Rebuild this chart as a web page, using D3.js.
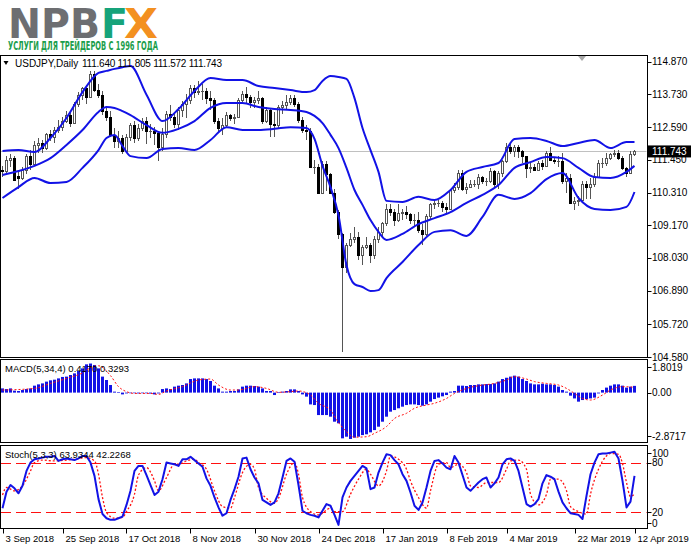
<!DOCTYPE html>
<html><head><meta charset="utf-8">
<script src="https://cdn.jsdelivr.net/npm/d3@7"></script>
<style>
html,body{margin:0;padding:0;background:#fff;}
svg{display:block;font-family:"Liberation Sans",Arial,sans-serif;}
</style></head><body>
<svg id="c" width="691" height="549"></svg>
<script>
// ---------- DATA ----------
const opens = [
111.10,111.05,111.45,111.50,110.90,110.80,111.10,111.60,111.30,111.95,
112.05,111.85,112.35,112.25,112.50,112.60,112.80,113.00,112.75,113.40,
113.70,113.95,113.65,114.45,113.90,113.70,113.15,112.95,112.30,112.10,
112.20,111.75,112.25,112.65,112.20,112.55,112.80,112.45,112.45,112.40,
111.90,112.35,113.05,112.95,112.70,113.20,113.40,113.55,113.95,113.80,
113.85,113.85,113.60,113.55,112.80,112.55,112.65,113.00,112.90,112.95,
113.55,113.75,113.65,113.45,113.55,113.60,112.80,113.20,112.70,112.65,
113.30,113.35,113.45,113.60,113.40,112.85,112.50,112.45,111.20,111.20,
110.30,111.30,110.95,110.30,109.65,108.85,107.70,108.50,108.70,108.75,
108.15,108.40,108.50,108.15,108.70,108.95,109.25,109.75,109.65,109.35,
109.60,109.65,109.55,109.35,109.35,109.00,108.85,109.50,109.90,109.95,
109.95,109.80,109.75,110.40,110.50,111.00,110.45,110.50,110.60,110.60,
110.85,110.70,110.70,111.05,110.60,111.00,111.40,111.90,111.75,111.90,
111.75,111.60,111.15,111.20,111.10,111.35,111.25,111.70,111.45,111.40,
111.40,110.70,110.80,109.95,110.00,110.05,110.60,110.50,110.60,110.85,
111.35,111.35,111.50,111.65,111.70,111.50,111.15,111.00,111.640];
const highs = [
111.25,111.60,111.65,111.60,111.05,111.20,111.65,111.80,112.10,112.20,
112.15,112.40,112.50,112.60,112.85,112.95,113.15,113.10,113.45,113.80,
114.00,114.05,114.55,114.55,114.10,113.85,113.30,113.15,112.55,112.45,
112.30,112.35,112.75,112.80,112.70,112.90,112.95,112.70,112.60,112.45,
112.55,113.15,113.35,113.10,113.30,113.50,113.75,114.05,114.05,114.20,
114.10,113.95,113.85,113.60,112.90,112.90,113.10,113.05,113.05,113.60,
113.85,114.00,113.70,113.65,113.85,113.65,113.30,113.25,113.10,113.35,
113.50,113.70,113.70,113.70,113.45,112.95,112.65,112.55,111.45,111.30,
111.40,111.40,111.00,110.45,109.70,108.90,108.55,108.90,109.10,108.95,
108.50,108.75,108.55,108.80,109.10,109.30,109.90,109.90,109.75,109.90,
109.75,109.85,109.60,109.55,109.65,109.20,109.55,109.95,110.05,110.05,
110.00,109.95,110.45,110.65,111.10,111.10,110.65,110.75,110.75,110.95,
110.90,110.80,111.15,111.10,111.05,111.45,112.05,112.05,111.95,111.95,
111.80,111.60,111.35,111.30,111.40,111.45,111.75,111.90,111.55,111.60,
111.70,111.00,110.95,110.15,110.20,110.70,110.70,110.80,111.00,111.45,
111.50,111.70,111.70,111.80,111.80,111.60,111.20,111.75,111.805];
const lows = [
110.85,110.95,111.20,110.70,110.45,110.75,110.95,111.10,111.25,111.70,
111.70,111.80,112.10,112.05,112.40,112.45,112.75,112.60,112.70,113.30,
113.55,113.40,113.60,113.80,113.60,113.00,112.80,112.25,111.85,111.85,
111.65,111.70,112.10,112.05,112.10,112.45,112.00,112.20,111.95,111.40,
111.75,112.20,112.80,112.55,112.50,112.95,112.90,113.40,113.60,113.70,
113.55,113.40,113.20,112.70,112.40,112.30,112.60,112.80,112.70,112.90,
113.40,113.40,113.25,113.25,113.40,112.70,112.75,112.25,112.25,112.55,
113.05,113.20,113.35,113.30,112.75,112.40,112.15,111.20,110.95,110.25,
110.25,110.35,110.25,109.55,108.70,104.75,107.50,108.40,108.55,107.95,
107.80,108.35,107.85,108.00,108.55,108.80,109.15,109.50,109.15,109.30,
109.35,109.40,109.20,109.15,108.90,108.50,108.80,109.35,109.75,109.80,
109.65,109.55,109.70,110.30,110.40,110.35,110.25,110.50,110.50,110.45,
110.60,110.55,110.65,110.50,110.45,110.85,111.35,111.65,111.55,111.50,
111.35,110.80,111.00,111.05,111.05,111.10,111.20,111.40,111.30,111.20,
110.60,110.30,109.90,109.70,109.85,109.95,110.10,110.10,110.50,110.80,
111.15,111.25,111.45,111.55,111.45,111.10,110.85,110.95,111.572];
const closes = [
111.05,111.45,111.50,110.75,110.80,111.10,111.60,111.30,111.95,112.05,
111.85,112.35,112.25,112.50,112.60,112.80,113.00,112.75,113.40,113.70,
113.95,113.65,114.45,113.90,113.70,113.15,112.95,112.30,112.10,112.20,
111.75,112.25,112.65,112.20,112.55,112.80,112.45,112.45,112.40,111.90,
112.35,113.05,112.95,112.70,113.20,113.40,113.55,113.95,113.80,113.85,
113.85,113.60,113.55,112.80,112.55,112.65,113.00,112.90,112.95,113.55,
113.75,113.65,113.45,113.55,113.60,112.80,113.20,112.70,112.65,113.30,
113.35,113.45,113.60,113.40,112.85,112.50,112.45,111.20,111.20,110.30,
111.30,110.95,110.30,109.65,108.85,107.70,108.50,108.70,108.75,108.15,
108.40,108.50,108.15,108.70,108.95,109.25,109.75,109.65,109.35,109.60,
109.65,109.55,109.35,109.35,109.00,108.85,109.50,109.90,109.95,109.95,
109.80,109.75,110.40,110.50,111.00,110.45,110.50,110.60,110.60,110.85,
110.70,110.70,111.05,110.60,111.00,111.40,111.90,111.75,111.90,111.75,
111.60,111.15,111.20,111.10,111.35,111.25,111.70,111.45,111.40,111.40,
110.70,110.80,109.95,110.00,110.05,110.60,110.50,110.60,110.85,111.35,
111.35,111.50,111.65,111.70,111.50,111.15,111.00,111.65,111.743];

const symbol = "USDJPY,Daily";
const lastOHLC = ["111.640","111.805","111.572","111.743"];
const lastPrice = 111.743;
const priceTicks = [114.870,113.730,112.590,111.450,110.310,109.170,108.030,106.890,105.720,104.580];

// Bollinger bands at these bars
const bbIdx = [0,4,8,12,16,20,24,26,28,30,32,36,40,44,48,52,56,60,64,68,72,76,78,80,82,84,86,88,90,92,94,96,100,104,108,112,116,120,124,128,132,136,140,144,148,152,156,158];
const bbUpper = [111.76,111.79,111.72,112.21,112.91,113.81,114.48,114.55,114.62,114.68,114.72,113.72,112.80,113.22,113.85,114.30,114.23,114.23,114.02,113.95,113.88,113.81,113.88,114.20,114.37,114.34,114.27,113.60,112.56,111.79,111.03,110.02,109.98,110.16,110.05,110.40,111.03,111.20,111.34,112.18,112.21,112.11,111.93,112.04,112.14,111.86,112.07,112.07];
const bbMiddle = [110.92,111.06,111.24,111.51,111.97,112.49,113.12,113.29,113.26,113.15,113.01,112.66,112.39,112.53,112.80,113.26,113.43,113.43,113.29,113.22,113.19,113.12,112.98,112.73,112.32,111.86,111.17,110.40,109.88,109.35,108.94,108.66,108.87,109.21,109.42,109.63,109.95,110.23,110.57,111.17,111.37,111.55,111.51,111.17,110.85,110.82,111.03,111.24];
const bbLower = [110.12,110.50,110.82,110.64,110.68,111.17,111.79,112.21,112.32,111.93,111.58,111.51,111.83,111.86,111.79,112.14,112.59,112.49,112.49,112.53,112.59,112.56,112.18,111.24,110.50,109.52,107.78,107.12,107.02,106.88,106.91,107.33,107.89,108.48,108.94,109.00,108.80,109.46,110.23,110.09,110.29,110.78,110.99,110.12,109.74,109.70,109.81,110.33];

// MACD(5,34,4)
const macdLabel = "MACD(5,34,4) 0.4170 0.3293";
const macdTicks = [1.8019, 0.00, -2.8717];
const macdTickText = ["1.8019","0.00","-2.8717"];
const macdHist = [
0.26,0.22,0.26,0.12,0.10,0.16,0.22,0.26,0.43,0.51,
0.57,0.68,0.76,0.80,0.88,0.97,0.99,1.09,1.19,1.34,
1.50,1.75,1.80,1.71,1.50,0.99,0.78,0.47,0.06,0.02,
-0.11,-0.05,0.00,-0.03,-0.05,-0.02,-0.04,-0.06,-0.11,-0.05,
0.22,0.26,0.22,0.37,0.43,0.47,0.57,0.84,0.88,0.88,
0.88,0.84,0.72,0.43,0.26,0.06,0.06,0.10,0.10,0.20,
0.37,0.43,0.43,0.41,0.37,0.26,0.10,0.10,-0.15,0.02,
0.06,0.10,0.20,0.20,0.10,-0.11,-0.25,-0.73,-0.77,-1.39,
-1.39,-1.39,-1.49,-1.80,-1.90,-2.83,-2.73,-2.87,-2.79,-2.73,
-2.63,-2.58,-2.46,-2.32,-2.11,-1.80,-1.49,-1.18,-1.08,-0.97,
-0.87,-0.77,-0.73,-0.73,-0.77,-0.81,-0.73,-0.56,-0.40,-0.31,
-0.23,-0.15,0.06,0.10,0.43,0.43,0.41,0.47,0.47,0.51,
0.51,0.53,0.53,0.57,0.68,0.84,0.92,0.99,1.05,0.99,
0.84,0.72,0.57,0.51,0.51,0.55,0.51,0.51,0.47,0.37,
0.16,0.06,-0.19,-0.36,-0.56,-0.46,-0.40,-0.36,-0.31,-0.05,
0.16,0.31,0.43,0.51,0.51,0.43,0.31,0.37,0.417];
const macdSigIdx = [0,8,12,16,20,22,24,27,29,31,33,37,39,41,45,49,52,54,57,59,63,66,69,72,74,77,79,82,84,86,88,91,93,96,98,101,103,106,108,111,113,116,119,123,126,128,131,133,136,139,141,143,145,147,150,152,155,158];
const macdSig = [0.16,0.26,0.57,0.88,1.22,1.55,1.66,1.05,0.37,0.06,-0.05,-0.05,-0.11,0.10,0.37,0.78,0.84,0.47,0.16,0.16,0.37,0.26,0.02,0.06,0.10,-0.15,-0.66,-1.08,-1.85,-2.42,-2.76,-2.73,-2.52,-2.10,-1.60,-1.28,-0.97,-0.77,-0.66,-0.36,-0.05,0.26,0.43,0.57,0.78,0.99,0.84,0.68,0.57,0.47,0.26,-0.05,-0.36,-0.46,-0.15,0.16,0.37,0.3293];

// Stochastic(5,3,3)
const stochLabel = "Stoch(5,3,3) 63.9344 42.2268";
const stochTicks = [100,80,20,0];
const stochLevels = [80,20];
const stochMain = [
25,45,53,49,43,52,70,80,84,85,
86,87,87,88,82,84,85,84,83,85,
88,88,80,64,36,18,13,11,11,13,
15,29,46,70,76,76,65,53,41,45,
60,80,79,78,76,84,84,87,83,79,
75,61,52,38,26,16,19,35,48,63,
85,86,72,62,55,35,32,29,32,43,
62,82,85,81,53,22,19,17,16,14,
22,30,28,17,5,38,50,58,64,70,
76,73,48,50,68,80,90,89,83,78,
66,58,44,28,23,32,50,70,82,83,
79,74,72,88,80,65,50,46,51,56,
60,62,50,55,62,78,84,85,82,70,
50,30,27,30,36,55,65,63,60,45,
32,25,19,18,17,12,40,66,80,90,
91,91,92,93,85,58,26,33,63.93];
const stochSigIdx = [0,1,3,5,7,8,10,13,16,18,21,23,24,25,26,28,30,31,33,34,36,38,39,41,43,44,46,48,49,51,53,55,57,58,60,62,63,64,66,68,69,71,73,74,75,77,79,82,83,85,87,89,91,92,94,96,97,99,101,102,104,106,107,109,111,112,114,116,117,119,121,124,126,127,129,131,132,134,136,137,139,141,142,144,146,147,149,151,152,154,155,156,157,158];
const stochSig = [41,50,46,52,70,80,83,82,83,84,86,82,66,38,20,13,14,21,42,65,74,58,46,62,78,78,82,84,80,72,46,27,25,38,68,78,72,50,37,31,37,66,80,66,38,21,17,25,21,21,42,60,72,66,52,70,88,84,72,58,38,25,46,78,80,74,78,68,52,50,56,56,72,82,83,72,42,29,42,60,60,46,27,21,18,42,72,88,91,90,79,56,39,42.23];

// Date axis
const dateTickIdx = [0,15,31,47,63,79,95,111,126,143,158];
const dateLabels = ["3 Sep 2018","25 Sep 2018","17 Oct 2018","8 Nov 2018","30 Nov 2018","24 Dec 2018","17 Jan 2019","8 Feb 2019","4 Mar 2019","22 Mar 2019","12 Apr 2019"];

// ---------- DRAW ----------
const svg = d3.select("#c");
const AX = 647;                // right axis
const MAIN = {top:55.5, bottom:357.5};
const MACDP = {top:359.5, bottom:442.5};
const STO = {top:445.5, bottom:528.5};
const BLUE = "#1212e6", RED = "#ff1010";

const n = closes.length;
const x = d3.scaleLinear().domain([0, n-1]).range([2.5, 634.5]);
const yP = d3.scaleLinear().domain([104.58, 114.87]).range([357, 61.7]);
const yM = d3.scaleLinear().domain([-2.8717, 1.8019]).range([439, 363.5]);
const yS = d3.scaleLinear().domain([0, 100]).range([529, 446]);

svg.append("rect").attr("width",691).attr("height",549).attr("fill","#fff");

// logo
const logo = svg.append("g").attr("font-family","'DejaVu Sans',sans-serif").attr("font-weight","bold");
logo.append("text").attr("x",8).attr("y",38).attr("font-size",41).attr("fill","#6d6e71")
  .attr("textLength",92).attr("lengthAdjust","spacingAndGlyphs").text("NPB");
logo.append("text").attr("x",101).attr("y",38).attr("font-size",41).attr("fill","#16a37a")
  .attr("textLength",27).attr("lengthAdjust","spacingAndGlyphs").text("F");
logo.append("text").attr("x",124).attr("y",38).attr("font-size",41).attr("fill","#f39020")
  .attr("textLength",34).attr("lengthAdjust","spacingAndGlyphs").text("X");
svg.append("text").attr("x",8).attr("y",50).attr("font-size",11.5).attr("font-weight","bold")
  .attr("font-family","'Liberation Sans Narrow','DejaVu Sans Condensed',sans-serif")
  .attr("fill","#1c9e4c").attr("textLength",150).attr("lengthAdjust","spacingAndGlyphs")
  .text("УСЛУГИ ДЛЯ ТРЕЙДЕРОВ С 1996 ГОДА");

// clip paths
const defs = svg.append("defs");
[["cm",MAIN],["cd",MACDP],["cs",STO]].forEach(([id,p])=>{
  defs.append("clipPath").attr("id",id).append("rect")
    .attr("x",1).attr("y",p.top+0.5).attr("width",AX-1.5).attr("height",p.bottom-p.top-1);
});

// ---- main panel ----
const gm = svg.append("g").attr("clip-path","url(#cm)");
gm.append("line").attr("x1",1).attr("x2",AX).attr("y1",Math.round(yP(lastPrice))+0.5).attr("y2",Math.round(yP(lastPrice))+0.5)
  .attr("stroke","#c0c0c0");
const idx = d3.range(n);
gm.selectAll("line.wick").data(idx).join("line").attr("class","wick")
  .attr("x1",i=>x(i)).attr("x2",i=>x(i))
  .attr("y1",i=>Math.round(yP(highs[i]))).attr("y2",i=>Math.round(yP(lows[i])))
  .attr("stroke","#555");
gm.selectAll("rect.body").data(idx).join("rect").attr("class","body")
  .attr("x",i=>x(i)-1).attr("width",2)
  .attr("y",i=>Math.round(Math.min(yP(opens[i]),yP(closes[i])))+0.5)
  .attr("height",i=>Math.max(0.01,Math.round(Math.max(yP(opens[i]),yP(closes[i])))-Math.round(Math.min(yP(opens[i]),yP(closes[i])))))
  .attr("fill",i=>closes[i]>=opens[i]?"#fff":"#000")
  .attr("stroke",i=>closes[i]>=opens[i]?"#555":"#000");

const bandLine = d3.line().x(d=>x(d[0])).y(d=>yP(d[1])).curve(d3.curveMonotoneX);
[bbUpper,bbMiddle,bbLower].forEach(arr=>{
  gm.append("path").datum(bbIdx.map((k,j)=>[k,arr[j]]))
    .attr("d",bandLine).attr("fill","none").attr("stroke",BLUE).attr("stroke-width",2);
});

// chart shift marker
svg.append("path").attr("d","M578,56 L586,56 L582,61 Z").attr("fill","#a8a8a8");

// title
svg.append("path").attr("d","M3.5,61 L8.5,61 L6,65 Z").attr("fill","#000");
svg.append("text").attr("x",15).attr("y",67).attr("font-size",10).attr("fill","#000").text(symbol);
svg.append("text").attr("x",82).attr("y",67).attr("font-size",10).attr("fill","#000")
  .attr("textLength",140).attr("lengthAdjust","spacing").text(lastOHLC.join(" "));

// ---- MACD panel ----
const gd = svg.append("g").attr("clip-path","url(#cd)");
gd.selectAll("rect").data(idx).join("rect")
  .attr("x",i=>x(i)-1.5).attr("width",3)
  .attr("y",i=>Math.min(yM(macdHist[i]),yM(0)))
  .attr("height",i=>Math.max(0.6,Math.abs(yM(macdHist[i])-yM(0))))
  .attr("fill",BLUE);
gd.append("path").datum(macdSigIdx.map((k,j)=>[k,macdSig[j]]))
  .attr("d",d3.line().x(d=>x(d[0])).y(d=>yM(d[1])).curve(d3.curveMonotoneX))
  .attr("fill","none").attr("stroke",RED).attr("stroke-width",1).attr("stroke-dasharray","2,2");
svg.append("text").attr("x",5).attr("y",372).attr("font-size",9.5).attr("fill","#000").text(macdLabel);

// ---- Stochastic panel ----
const gs = svg.append("g").attr("clip-path","url(#cs)");
stochLevels.forEach(v=>{
  gs.append("line").attr("x1",1).attr("x2",AX).attr("y1",Math.round(yS(v))+0.5).attr("y2",Math.round(yS(v))+0.5)
    .attr("stroke",RED).attr("stroke-width",1.2).attr("stroke-dasharray","10,5");
});
gs.append("path").datum(stochSigIdx.map((k,j)=>[k,stochSig[j]]))
  .attr("d",d3.line().x(d=>x(d[0])).y(d=>yS(d[1])).curve(d3.curveMonotoneX))
  .attr("fill","none").attr("stroke",RED).attr("stroke-width",1.3).attr("stroke-dasharray","2,2");
gs.append("path").datum(stochMain.map((v,i)=>[i,v]))
  .attr("d",d3.line().x(d=>x(d[0])).y(d=>yS(d[1])))
  .attr("fill","none").attr("stroke",BLUE).attr("stroke-width",2).attr("stroke-linejoin","round");
svg.append("text").attr("x",5).attr("y",458).attr("font-size",9.5).attr("fill","#000").text(stochLabel);

// ---- panel frames ----
[MAIN,MACDP,STO].forEach(p=>{
  svg.append("rect").attr("x",0.5).attr("y",p.top).attr("width",AX).attr("height",p.bottom-p.top)
    .attr("fill","none").attr("stroke","#000");
});

// ---- right axes ----
const ax = svg.append("g").attr("font-size",10).attr("fill","#000");
priceTicks.forEach(v=>{
  const y = yP(v);
  ax.append("line").attr("x1",AX+0.5).attr("x2",AX+4.5).attr("y1",Math.round(y)+0.5).attr("y2",Math.round(y)+0.5).attr("stroke","#000");
  ax.append("text").attr("x",AX+5).attr("y",y+3.5).text(v.toFixed(3));
});
const ly = yP(lastPrice);
ax.append("rect").attr("x",AX+1).attr("y",ly-6).attr("width",43).attr("height",12).attr("fill","#000");
ax.append("text").attr("x",AX+5).attr("y",ly+3.5).attr("fill","#fff").text(lastPrice.toFixed(3));

macdTicks.forEach((v,j)=>{
  const y = Math.max(367, Math.min(436, yM(v)));
  ax.append("line").attr("x1",AX+0.5).attr("x2",AX+4.5).attr("y1",Math.round(y)+0.5).attr("y2",Math.round(y)+0.5).attr("stroke","#000");
  ax.append("text").attr("x",AX+5).attr("y",y+3.5).text(macdTickText[j]);
});
stochTicks.forEach(v=>{
  const y = Math.max(453, Math.min(523, yS(v)));
  ax.append("line").attr("x1",AX+0.5).attr("x2",AX+4.5).attr("y1",Math.round(y)+0.5).attr("y2",Math.round(y)+0.5).attr("stroke","#000");
  ax.append("text").attr("x",AX+5).attr("y",y+3.5).text(v);
});

// ---- date axis ----
const dx = svg.append("g").attr("font-size",9.5).attr("fill","#000");
dateTickIdx.forEach((k,j)=>{
  const xx = Math.round(x(k))+0.5;
  dx.append("line").attr("x1",xx).attr("x2",xx).attr("y1",STO.bottom).attr("y2",STO.bottom+5).attr("stroke","#000");
  dx.append("text").attr("x",xx+2).attr("y",542).text(dateLabels[j]);
});
</script>
</body></html>
